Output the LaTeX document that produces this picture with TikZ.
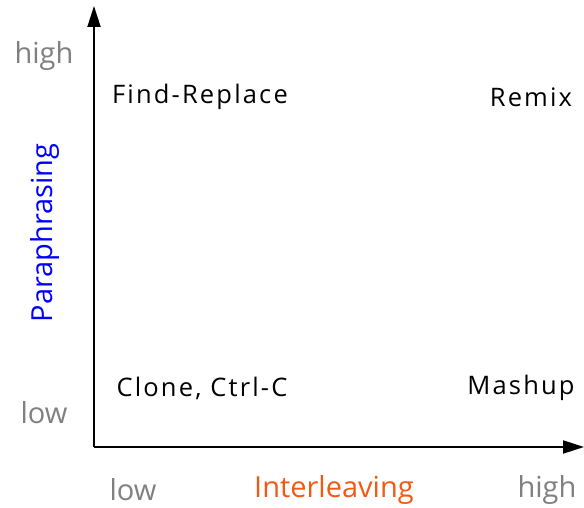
\documentclass[tikz,border=0pt]{standalone}
\usepackage{fontspec}
\setmainfont{Open Sans}
\newfontfamily\spaced[LetterSpace=8.5]{Open Sans}
\usetikzlibrary{arrows.meta}
\definecolor{tickgray}{RGB}{128,128,128}
\definecolor{axorange}{RGB}{240,90,20}
\begin{document}
\begin{tikzpicture}[x=1pt,y=-1pt,
  tick/.style={text=tickgray,font=\fontsize{29}{34}\selectfont,inner sep=0},
  quad/.style={text=black,font=\spaced\fontsize{25.5}{30}\selectfont,inner sep=0},
  axis/.style={line width=2pt,-{Triangle[length=21pt,width=13pt]}}]
\useasboundingbox (0,0) rectangle (584,508);
\coordinate (o) at (94,447);
\coordinate (ytop) at (94,6);
\coordinate (xend) at (584,447);
\draw[axis] (o) -- (ytop);
\draw[axis] (o) -- (xend);
\node[tick] (yhigh) at (44,56) {high};
\node[tick] (ylow) at (44,413) {low};
\node[tick] (xlow) at (133,490) {low};
\node[tick] (xhigh) at (547,490) {high};
\node[tick,text=axorange] (xlab) at (334,490) {Interleaving};
\node[tick,text=blue,rotate=90] (ylab) at (45,233) {Paraphrasing};
\node[quad] (fr) at (200,97) {Find-Replace};
\node[quad] (rm) at (531,97) {Remix};
\node[quad] (cl) at (202,388) {Clone, Ctrl-C};
\node[quad] (ms) at (521,388) {Mashup};
\end{tikzpicture}
\end{document}
